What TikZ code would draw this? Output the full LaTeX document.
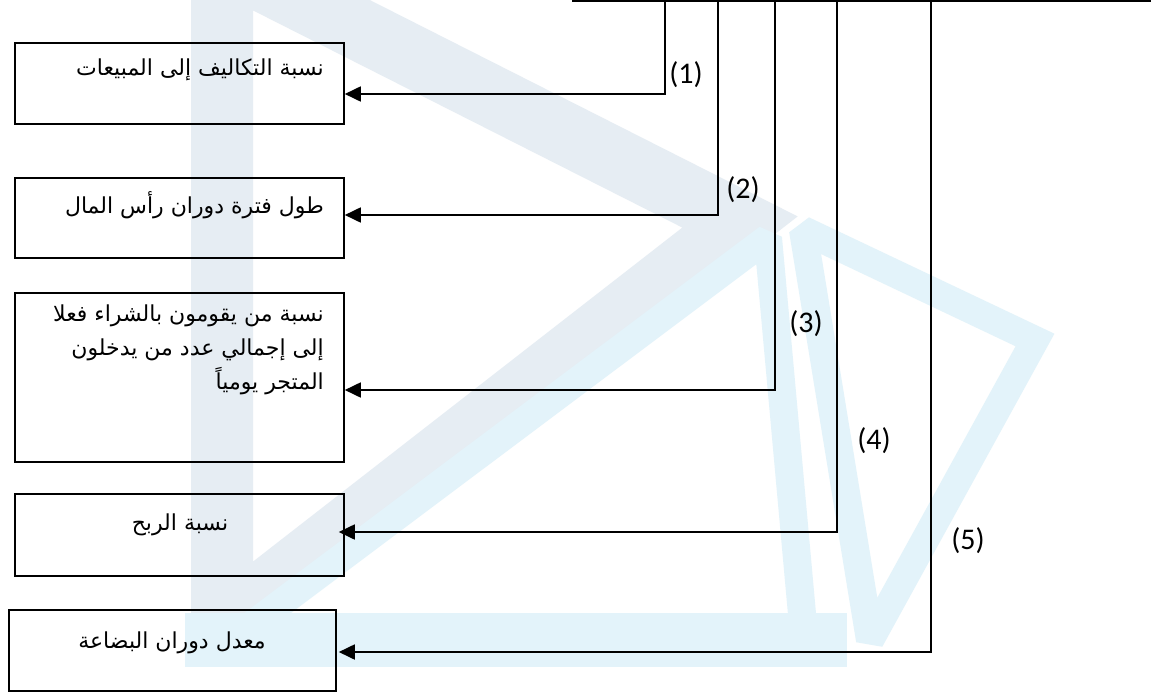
\documentclass[tikz,border=0pt]{standalone}
\usepackage{fontspec}
\usetikzlibrary{arrows.meta}
\TeXXeTstate=1
\newfontfamily\arabicfont[Script=Arabic]{DejaVu Sans}
\newfontfamily\numfont{Carlito}
\definecolor{wmgray}{HTML}{E6EDF3}
\definecolor{wmcyan}{HTML}{E3F3FA}
\tikzset{
  boxst/.style={draw=black, line width=1.8pt, rectangle, inner sep=0pt, anchor=north west},
  conn/.style={draw=black, line width=1.8pt},
  arr/.style={conn, -{Triangle[length=16pt,width=15pt]}},
  artext/.style={font=\arabicfont\fontsize{22}{34}\selectfont, inner sep=0pt},
  numlab/.style={font=\numfont\fontsize{30}{34}\selectfont, inner sep=0pt},
}
\begin{document}
\begin{tikzpicture}[x=1pt,y=-1pt]
\useasboundingbox (0,0) rectangle (1151,693);
\fill[white] (0,0) rectangle (1151,693);
% watermark
\begin{scope}[line join=miter, miter limit=2, line cap=butt]
  \draw[wmgray, line width=62pt] (222,-40) -- (222,625) -- (740,222) -- cycle;
  \draw[wmcyan, line width=28pt] (225,645) -- (768,238) -- (803,625);
  \draw[wmcyan, line width=54pt] (185,640) -- (847,640);
  \draw[wmcyan, line width=28pt] (803,230) -- (1035,340) -- (870,640) -- cycle;
\end{scope}
% boxes
\node[boxst, minimum width=329pt, minimum height=81pt] (b1) at (14,42) {};
\node[boxst, minimum width=329pt, minimum height=80pt] (b2) at (14,177) {};
\node[boxst, minimum width=329pt, minimum height=169pt] (b3) at (14,292) {};
\node[boxst, minimum width=329pt, minimum height=82pt] (b4) at (14,493) {};
\node[boxst, minimum width=327pt, minimum height=81pt] (b5) at (8,609) {};
% texts
\node[artext, anchor=east] (t1) at (324,70) {\beginR نسبة التكاليف إلى المبيعات\endR};
\node[artext, anchor=east] (t2) at (324,205) {\beginR طول فترة دوران رأس المال\endR};
\node[artext, anchor=north east, align=right] (t3) at (324,305) {\beginR نسبة من يقومون بالشراء فعلا\endR\\\beginR إلى إجمالي عدد من يدخلون\endR\\\beginR المتجر يومياً\endR};
\node[artext] (t4) at (180,525) {\beginR نسبة الربح\endR};
\node[artext] (t5) at (172,643) {\beginR معدل دوران البضاعة\endR};
% top bar
\coordinate (barL) at (572,1);
\coordinate (barR) at (1151,1);
\draw[conn] (barL) -- (barR);
\coordinate (v1) at (665,1); \coordinate (k1) at (665,94);
\coordinate (v2) at (718,1); \coordinate (k2) at (718,215);
\coordinate (v3) at (775,1); \coordinate (k3) at (775,390);
\coordinate (v4) at (837,1); \coordinate (k4) at (837,532);
\coordinate (v5) at (931,1); \coordinate (k5) at (931,652);
\draw[arr] (v1) -- (k1) -- (b1.east |- k1);
\draw[arr] (v2) -- (k2) -- (b2.east |- k2);
\draw[arr] (v3) -- (k3) -- (b3.east |- k3);
\draw[arr] (v4) -- (k4) -- ([xshift=-6pt]b4.east |- k4);
\draw[arr] (v5) -- (k5) -- ([xshift=2pt]b5.east |- k5);
% labels
\node[numlab] (n1) at (686,75) {(1)};
\node[numlab] (n2) at (743,190) {(2)};
\node[numlab] (n3) at (806,324) {(3)};
\node[numlab] (n4) at (874,441) {(4)};
\node[numlab] (n5) at (968,541) {(5)};
\end{tikzpicture}
\end{document}
